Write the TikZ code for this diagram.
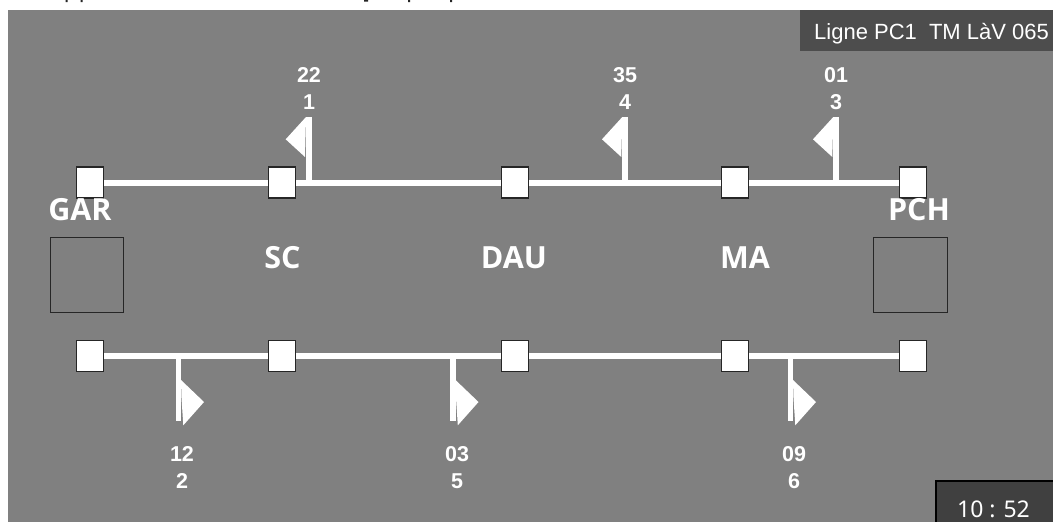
\documentclass[tikz,border=0pt]{standalone}
\usepackage{fontspec}
\setmainfont{Liberation Sans}
\newfontfamily\uifont{Noto Sans}
\newfontfamily\namefont{Open Sans}
\definecolor{bggray}{HTML}{808080}
\definecolor{hdrgray}{HTML}{4D4D4D}
\definecolor{clockgray}{HTML}{404040}
\definecolor{edgedark}{HTML}{262626}
\tikzset{
  station/.style={draw=edgedark,line width=1.2pt,fill=white,minimum width=27pt,minimum height=31pt,inner sep=0pt},
  depot/.style={draw=edgedark,line width=1.2pt,minimum width=73.5pt,minimum height=75pt,inner sep=0pt},
  track/.style={draw=white,line width=6pt},
  stem/.style={draw=white,line width=5.6pt},
  flagshape/.style={fill=white,draw=none},
  bignum/.style={text=white,font=\fontsize{21.5}{24}\selectfont\bfseries,inner sep=0pt},
  stname/.style={text=white,font=\namefont\fontsize{30.5}{34}\selectfont\bfseries,inner sep=0pt},
}
\begin{document}
\begin{tikzpicture}[x=1pt,y=-1pt]
\useasboundingbox (0,0) rectangle (1053,522);
\fill[white] (0,0) rectangle (1053,522);
\fill[bggray] (8,10) rectangle (1053,522);
% cut-off descenders of the line above the picture
\fill[black!85] (65.5,0) rectangle (67.5,2) (80.5,0) rectangle (82.5,2)
  (364,0) rectangle (368,1.5) (408,0) rectangle (410,2) (450,0) rectangle (452,2);
% header and clock
\fill[hdrgray] (800,10) rectangle (1053,51);
\node[anchor=base west,text=white,inner sep=0pt,font=\fontsize{22}{24}\selectfont] (hdr) at (814,39) {Ligne PC1\hspace{0.55em}TM LàV 065};
\draw[black,line width=2pt,fill=clockgray] (936,523.5) -- (936,481) -- (1054,481) -- (1054,523.5);
\node[anchor=base,text=white,inner sep=0pt,font=\uifont\fontsize{23}{24}\selectfont] (clock) at (993.5,517) {10 : 52};
% depots
\node[depot] (depotA) at (87,274.7) {};
\node[depot] (depotB) at (910.6,274.7) {};
% junctions and stem ends
\coordinate (j1) at (308.7,182.5); \coordinate (e1) at (308.7,117);
\coordinate (j4) at (625,182.5);   \coordinate (e4) at (625,117);
\coordinate (j3) at (836,182.5);   \coordinate (e3) at (836,117);
\coordinate (j2) at (178.5,356);   \coordinate (e2) at (178.5,420.7);
\coordinate (j5) at (453,356);     \coordinate (e5) at (453,420.7);
\coordinate (j6) at (790.5,356);   \coordinate (e6) at (790.5,420.7);
% tracks and stems
\draw[track] (90,182.5) coordinate (ta) -- (913,182.5) coordinate (tb);
\draw[track] (90,356) coordinate (ba) -- (913,356) coordinate (bb);
\draw[stem] (j1) -- (e1);
\draw[stem] (j4) -- (e4);
\draw[stem] (j3) -- (e3);
\draw[stem] (j2) -- (e2);
\draw[stem] (j5) -- (e5);
\draw[stem] (j6) -- (e6);
% flags
\foreach \c in {e1,e4,e3}{
  \fill[flagshape] (\c) ++(-2.7,0) -- ++(-20.3,22.3) -- ++(19.3,17.7) -- cycle;
}
\foreach \c in {j2,j5,j6}{
  \fill[flagshape] (\c) ++(2.5,24) -- ++(23,22) -- ++(-20.7,23.3) -- ++(-1.8,-27.3) -- cycle;
}
% stations
\node[station] (t1) at (ta) {};
\node[station] (t2) at (282,182.5) {};
\node[station] (t3) at (515,182.5) {};
\node[station] (t4) at (735,182.5) {};
\node[station] (t5) at (tb) {};
\node[station] (b1) at (ba) {};
\node[station] (b2) at (282,356) {};
\node[station] (b3) at (515,356) {};
\node[station] (b4) at (735,356) {};
\node[station] (b5) at (bb) {};
% station names
\node[stname] (nGAR) at (80,210) {GAR};
\node[stname] (nSC) at (282.5,258) {SC};
\node[stname] (nDAU) at (514,258) {DAU};
\node[stname] (nMA) at (745,258) {MA};
\node[stname] (nPCH) at (919,210) {PCH};
% numbers
\node[bignum] (a1) at (309,75) {22};
\node[bignum] (a2) at (309,102) {1};
\node[bignum] (a3) at (625,75) {35};
\node[bignum] (a4) at (625,102) {4};
\node[bignum] (a5) at (836,75) {01};
\node[bignum] (a6) at (836,102) {3};
\node[bignum] (c1) at (182,454) {12};
\node[bignum] (c2) at (182,481) {2};
\node[bignum] (c3) at (457,454) {03};
\node[bignum] (c4) at (457,481) {5};
\node[bignum] (c5) at (794,454) {09};
\node[bignum] (c6) at (794,481) {6};
\end{tikzpicture}
\end{document}
